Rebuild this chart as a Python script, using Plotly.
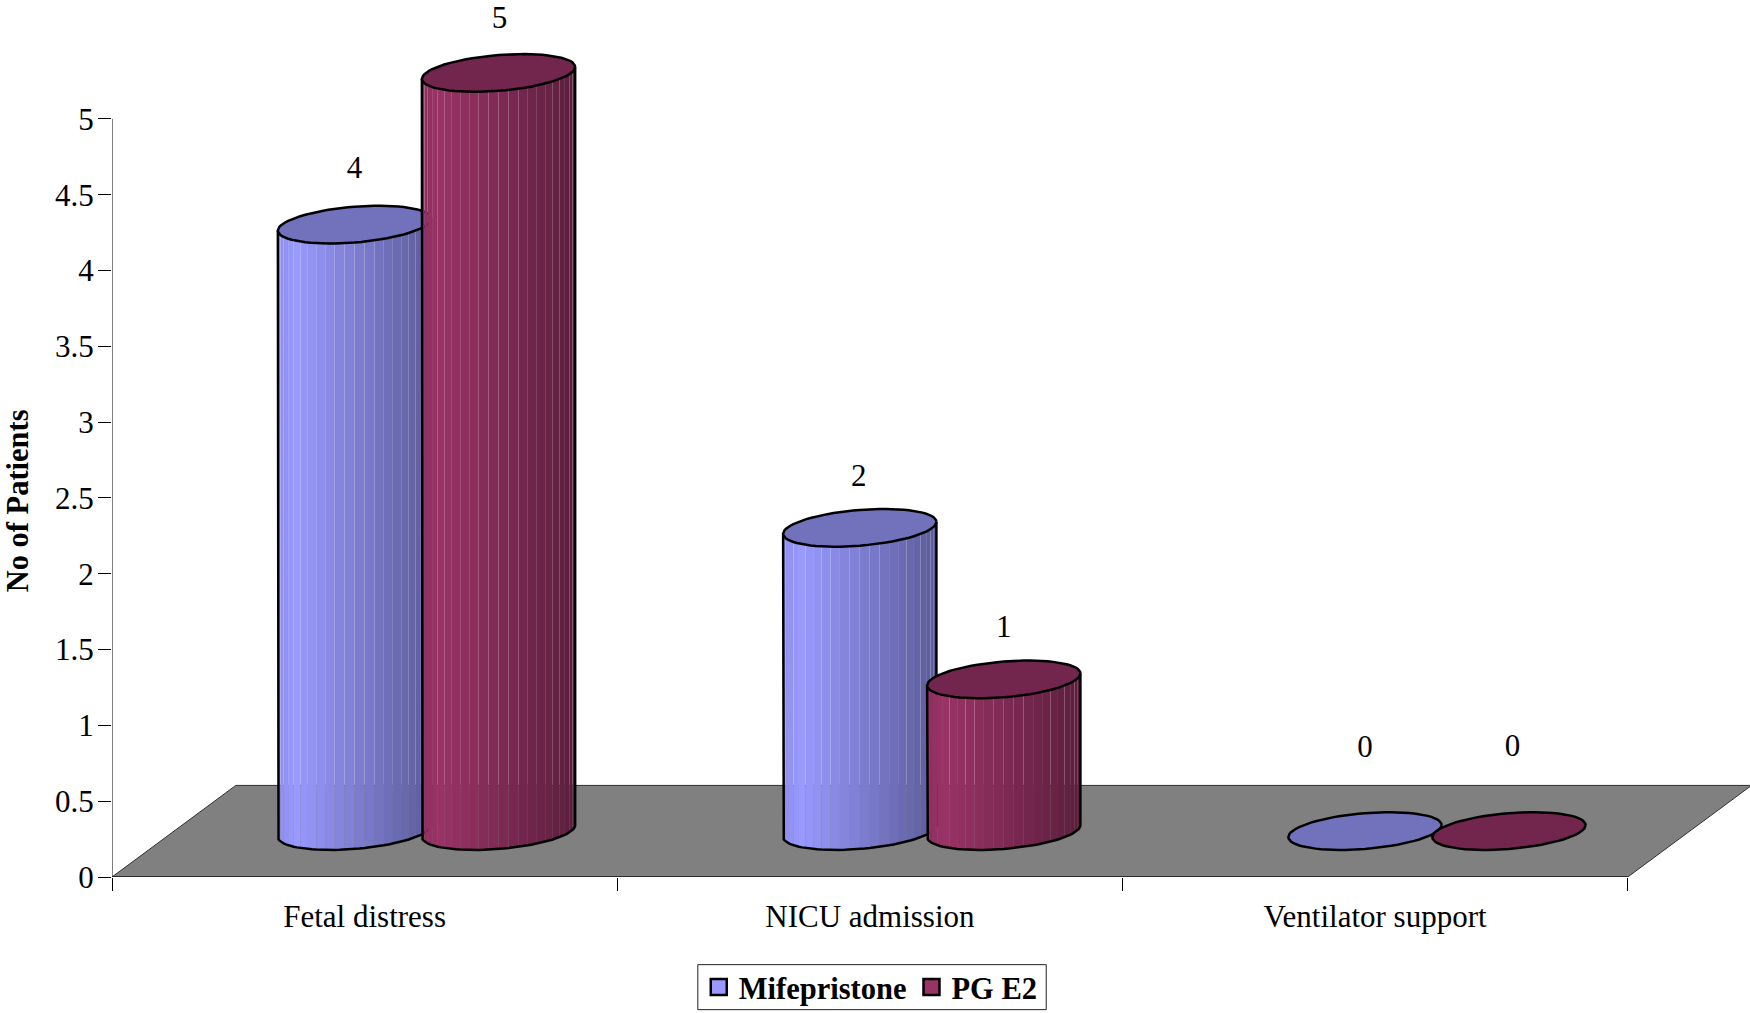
import math
import plotly.graph_objects as go

# Chart data
categories = ["Fetal distress", "NICU admission", "Ventilator support"]
mifepristone = [4, 2, 0]
pg_e2 = [5, 1, 0]
y_ticks = [0, 0.5, 1, 1.5, 2, 2.5, 3, 3.5, 4, 4.5, 5]

# Fake-3D geometry, in axis units
FLOOR_DX, FLOOR_DY = 0.245, 0.604
BASE_LIFT = 0.303          # cylinders stand in the middle of the floor
RADIUS_X = 0.1517          # half width of a cylinder
RADIUS_Y = 0.118           # half depth of the elliptical cap
TILT = 0.0396              # the right end of a cap sits higher than the left
STRIPS = 24
SERIF = "Liberation Serif, Times New Roman, serif"
TEXT_SIZE = 31

PLOT_LEFT, PLOT_BOTTOM = 111.5, 877.3
UNIT_X, UNIT_Y = 505.4, 151.67
X_MAX = (1750 - PLOT_LEFT) / UNIT_X
Y_MAX = PLOT_BOTTOM / UNIT_Y

series = [
    dict(name="Mifepristone", values=mifepristone, shift=0.480, rgb=(153, 153, 255),
         cap="#7272BC", label_lift=[0.36, 0.327, 0.538], label_dx=[0, -0.002, 0]),
    dict(name="PG E2", values=pg_e2, shift=0.765, rgb=(153, 51, 102),
         cap="#73264D", label_lift=[0.345, 0.33, 0.548], label_dx=[0.002, 0, 0.007]),
]


def shade(rgb, u):
    """Colour of a cylinder strip, u running 0..1 from its left to its right edge."""
    k = 0.93 + 0.07 * u / 0.12 if u < 0.12 else 1.0 - 0.40 * (u - 0.12) / 0.88
    return "rgb({},{},{})".format(*(round(c * k) for c in rgb))


def front_arc(cx, cy, t0, t1, n):
    """Points on the near half of a tilted cap, for angles t0..t1."""
    xs, ys = [], []
    for i in range(n + 1):
        t = t0 + (t1 - t0) * i / n
        xs.append(cx + RADIUS_X * math.cos(t))
        ys.append(cy - RADIUS_Y * math.sin(t) + TILT * math.cos(t))
    return xs, ys


def cap_outline(cx, cy, n=72):
    t = [2 * math.pi * i / n for i in range(n + 1)]
    return ([cx + RADIUS_X * math.cos(a) for a in t],
            [cy - RADIUS_Y * math.sin(a) + TILT * math.cos(a) for a in t])


def paper_x(px):
    return (px - PLOT_LEFT) / (1750 - PLOT_LEFT)


def paper_y(px):
    return (PLOT_BOTTOM - px) / PLOT_BOTTOM


fig = go.Figure()

# Grey floor of the 3D plot area
fig.add_trace(go.Scatter(
    x=[0, FLOOR_DX, 3 + FLOOR_DX, 3, 0],
    y=[0, FLOOR_DY, FLOOR_DY, 0, 0],
    mode="lines", fill="toself", fillcolor="#808080",
    line=dict(color="#303030", width=1),
    hoverinfo="skip", showlegend=False, cliponaxis=False,
))

# Axis lines stop at the last tick, short of the plot area edges
fig.add_trace(go.Scatter(x=[0, 0], y=[0, y_ticks[-1]], mode="lines",
                         line=dict(color="black", width=1),
                         hoverinfo="skip", showlegend=False, cliponaxis=False))
fig.add_trace(go.Scatter(x=[0, 3], y=[0, 0], mode="lines",
                         line=dict(color="black", width=1),
                         hoverinfo="skip", showlegend=False, cliponaxis=False))

# Cylinders
for col in range(len(categories)):
    for s in series:
        value = s["values"][col]
        cx = col + s["shift"]
        base = BASE_LIFT
        top = value + BASE_LIFT

        if value > 0:
            # Side wall built from narrow strips, shaded left to right
            for i in range(STRIPS):
                t0 = math.pi * (1 - i / STRIPS)
                t1 = math.pi * (1 - (i + 1) / STRIPS)
                bx, by = front_arc(cx, base, t0, t1, 4)
                tx, ty = front_arc(cx, top, t1, t0, 4)
                u = (1 + math.cos((t0 + t1) / 2)) / 2
                fig.add_trace(go.Scatter(
                    x=bx + tx + bx[:1], y=by + ty + by[:1],
                    mode="lines", fill="toself", fillcolor=shade(s["rgb"], u),
                    line=dict(width=0), hoverinfo="skip", showlegend=False,
                    cliponaxis=False,
                ))
            # Wall outline: left edge, bottom curve, right edge
            ax, ay = front_arc(cx, base, math.pi, 0, 48)
            fig.add_trace(go.Scatter(
                x=[ax[0]] + ax + [ax[-1]],
                y=[ay[0] + value] + ay + [ay[-1] + value],
                mode="lines", line=dict(color="black", width=2.5),
                hoverinfo="skip", showlegend=False, cliponaxis=False,
            ))

        ex, ey = cap_outline(cx, top)
        fig.add_trace(go.Scatter(
            x=ex, y=ey, mode="lines", fill="toself", fillcolor=s["cap"],
            line=dict(color="black", width=2.5),
            hovertemplate=f"{categories[col]}<br>{s['name']}: {value}<extra></extra>",
            showlegend=False, cliponaxis=False,
        ))

# Value labels above each cylinder
for s in series:
    fig.add_trace(go.Scatter(
        x=[c + s["shift"] + dx for c, dx in zip(range(len(categories)), s["label_dx"])],
        y=[v + BASE_LIFT + lift for v, lift in zip(s["values"], s["label_lift"])],
        mode="text", text=[str(v) for v in s["values"]],
        textposition="middle center",
        textfont=dict(family=SERIF, size=TEXT_SIZE, color="black"),
        hoverinfo="skip", showlegend=False, cliponaxis=False,
    ))

# Legend entries
for s in series:
    fig.add_trace(go.Scatter(
        x=[None], y=[None], mode="markers", name=s["name"],
        marker=dict(symbol="square", size=16, color="rgb({},{},{})".format(*s["rgb"]),
                    line=dict(color="black", width=2.5)),
    ))

fig.update_layout(
    width=1750, height=1013,
    margin=dict(l=PLOT_LEFT, r=0, t=0, b=1013 - PLOT_BOTTOM, pad=0, autoexpand=False),
    paper_bgcolor="white", plot_bgcolor="white",
    font=dict(family=SERIF, size=TEXT_SIZE, color="black"),
    xaxis=dict(
        range=[0, X_MAX], showgrid=False, zeroline=False, showline=False,
        tickmode="array", tickvals=[0.5, 1.5, 2.5], ticktext=categories,
        ticks="", ticklen=0, ticklabelstandoff=18,
        tickfont=dict(family=SERIF, size=TEXT_SIZE, color="black"),
        minor=dict(tickmode="array", tickvals=[0, 1, 2, 3], ticks="outside", ticklen=13,
                   tickwidth=1, tickcolor="black", showgrid=False),
    ),
    yaxis=dict(
        range=[0, Y_MAX], showgrid=False, zeroline=False, showline=False,
        tickmode="array", tickvals=y_ticks, ticks="outside", ticklen=13,
        tickwidth=1, tickcolor="black", ticklabelstandoff=-2,
        tickfont=dict(family=SERIF, size=TEXT_SIZE, color="black"),
    ),
    annotations=[dict(
        text="No of Patients", textangle=-90, showarrow=False,
        xref="paper", yref="paper", x=paper_x(17),
        y=paper_y(501), xanchor="center", yanchor="middle",
        font=dict(family=SERIF, size=30.5, color="black", weight="bold"),
    )],
    # The legend's own box would run off the page at this text size, so its frame is a shape
    legend=dict(
        orientation="h", xref="paper", yref="paper",
        x=paper_x(870.5), xanchor="center",
        y=paper_y(961), yanchor="top",
        bgcolor="rgba(0,0,0,0)", borderwidth=0,
        font=dict(family=SERIF, size=30.5, color="black", weight="bold"),
        itemsizing="trace",
    ),
    shapes=[dict(
        type="rect", xref="paper", yref="paper", layer="above",
        x0=paper_x(697.5), x1=paper_x(1046), y0=paper_y(1010), y1=paper_y(965),
        line=dict(color="#202020", width=1), fillcolor="rgba(0,0,0,0)",
    )],
)

fig.write_html("out.html")
